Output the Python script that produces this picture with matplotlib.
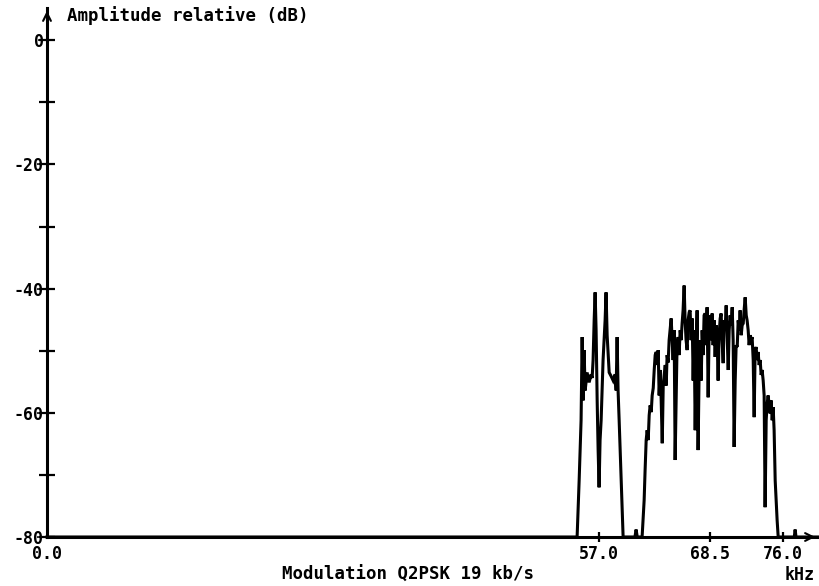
import matplotlib
matplotlib.use("Agg")
import matplotlib.pyplot as plt

# spectrum: frequency (kHz) and relative level (dB)
freq_khz = [
    0.0, 54.73, 54.94, 55.14, 55.25, 55.35, 55.45, 55.56, 55.76, 55.97,
    56.18, 56.28, 56.38, 56.49, 56.59, 56.69, 56.80, 56.90, 57.00, 57.10,
    57.21, 57.41, 57.62, 57.72, 57.83, 58.04, 58.24, 58.45, 58.66, 58.76,
    58.86, 58.96, 59.07, 59.28, 59.48, 60.70, 60.82, 60.94, 61.44,
    61.65, 61.75, 61.86, 61.96, 62.07, 62.17, 62.27, 62.38, 62.48, 62.59,
    62.69, 62.79, 62.90, 63.00, 63.10, 63.20, 63.31, 63.41, 63.52, 63.62,
    63.72, 63.83, 63.93, 64.02, 64.13, 64.23, 64.33, 64.44, 64.54, 64.64,
    64.75, 64.85, 64.95, 65.05, 65.16, 65.26, 65.37, 65.47, 65.57, 65.67,
    65.78, 65.88, 65.98, 66.09, 66.19, 66.30, 66.40, 66.50, 66.61, 66.71,
    66.81, 66.92, 67.02, 67.12, 67.22, 67.33, 67.43, 67.54, 67.64, 67.74,
    67.84, 67.95, 68.05, 68.15, 68.26, 68.36, 68.46, 68.57, 68.67, 68.77,
    68.88, 68.98, 69.08, 69.19, 69.29, 69.39, 69.50, 69.60, 69.70, 69.81,
    69.91, 70.01, 70.12, 70.22, 70.33, 70.43, 70.53, 70.64, 70.74, 70.84,
    70.94, 71.05, 71.15, 71.26, 71.36, 71.46, 71.56, 71.67, 71.77, 71.88,
    71.97, 72.08, 72.19, 72.28, 72.39, 72.49, 72.59, 72.70, 72.80, 72.91,
    73.01, 73.11, 73.21, 73.32, 73.42, 73.52, 73.63, 73.73, 73.83, 73.94,
    74.04, 74.14, 74.25, 74.35, 74.45, 74.56, 74.66, 74.76, 74.87, 74.97,
    75.07, 75.18, 75.28, 75.38, 75.49, 77.15, 77.24, 77.33, 79.6,
]
level_db = [
    -80.0, -80.0, -70.9, -61.2, -47.8, -58.0, -49.9, -56.4, -53.5, -55.1,
    -53.8, -54.4, -51.5, -45.1, -40.6, -46.7, -58.0, -66.0, -72.0, -64.4,
    -61.2, -51.5, -45.1, -40.6, -47.5, -53.5, -54.1, -54.8, -53.8, -56.4,
    -47.8, -56.4, -61.2, -70.9, -80.0, -80.0, -78.8, -80.0, -80.0,
    -74.1, -69.2, -64.4, -62.8, -64.4, -60.4, -58.8, -59.9, -57.2, -56.0,
    -53.1, -50.7, -50.2, -52.3, -49.9, -57.2, -53.1, -58.0, -64.9, -55.6,
    -53.9, -52.3, -55.6, -50.7, -51.9, -48.3, -46.7, -44.8, -48.3, -51.5,
    -46.7, -67.6, -58.0, -49.1, -47.8, -50.7, -46.7, -48.3, -45.6, -43.5,
    -39.5, -45.1, -48.3, -49.9, -45.1, -43.8, -43.5, -48.3, -44.8, -54.8,
    -46.7, -62.8, -51.5, -43.5, -66.0, -53.1, -48.3, -54.8, -46.7, -50.7,
    -44.3, -44.0, -49.1, -43.0, -57.5, -46.7, -44.3, -48.3, -44.0, -49.1,
    -45.1, -51.0, -45.9, -48.3, -54.8, -47.5, -44.8, -44.0, -48.3, -52.0,
    -45.1, -46.7, -42.7, -47.5, -53.1, -46.7, -44.3, -45.9, -43.0, -48.3,
    -65.5, -54.8, -49.1, -49.4, -45.1, -46.7, -43.5, -47.5, -45.9, -45.6,
    -43.5, -41.4, -44.3, -45.1, -46.7, -49.1, -47.5, -48.3, -47.8, -51.5,
    -60.7, -49.9, -49.4, -51.5, -50.2, -52.3, -51.5, -53.9, -53.1, -54.8,
    -57.2, -75.2, -61.2, -58.5, -57.2, -58.8, -60.1, -58.0, -61.2, -59.1,
    -62.8, -70.9, -74.1, -77.3, -80.0, -80.0, -78.8, -80.0, -80.0,
]

y_ticks = [-80, -70, -60, -50, -40, -30, -20, -10, 0]
y_tick_labels = ["-80", "", "-60", "", "-40", "", "-20", "", "0"]
x_ticks = [0.0, 57.0, 68.5, 76.0]
x_tick_labels = ["0.0", "57.0", "68.5", "76.0"]

W, H = 820, 586
font = "DejaVu Sans Mono"

fig = plt.figure(figsize=(W / 100, H / 100), dpi=100)
fig.patch.set_facecolor("white")

# axis box placed in pixels: y axis at x=47, x axis at y=537
left, right, top, bottom = 47, 818, 8, 537
ax = fig.add_axes([left / W, 1 - bottom / H, (right - left) / W, (bottom - top) / H])
ax.set_xlim(0, 79.6)
ax.set_ylim(-80, 5.2)

ax.plot(freq_khz, level_db, color="black", lw=2.2, solid_joinstyle="miter", clip_on=False)

for side in ["top", "right"]:
    ax.spines[side].set_visible(False)
for side in ["left", "bottom"]:
    ax.spines[side].set_linewidth(2.2)

ax.set_yticks(y_ticks)
ax.set_yticklabels(y_tick_labels, fontfamily=font, fontweight="bold", fontsize=12)
ax.set_xticks(x_ticks)
ax.set_xticklabels(x_tick_labels, fontfamily=font, fontweight="bold", fontsize=12)
ax.tick_params(axis="y", direction="inout", length=11, width=1.6, pad=-3)
ax.tick_params(axis="x", direction="inout", length=7, width=1.6, pad=2)
ax.xaxis.get_major_ticks()[0].tick1line.set_visible(False)

# open arrow heads at the end of both axes
ax.annotate("", xy=(1.0, 0), xytext=(0.985, 0), xycoords="axes fraction",
            arrowprops=dict(arrowstyle="->", lw=1.5, color="black", mutation_scale=14))
ax.annotate("", xy=(0, 1.0), xytext=(0, 0.97), xycoords="axes fraction",
            arrowprops=dict(arrowstyle="->", lw=1.5, color="black", mutation_scale=14))

fig.text(67 / W, 1 - 16 / H, "Amplitude relative (dB)", fontfamily=font,
         fontweight="bold", fontsize=12.5, ha="left", va="center")
fig.text(408 / W, 1 - 575 / H, "Modulation Q2PSK 19 kb/s", fontfamily=font,
         fontweight="bold", fontsize=12.5, ha="center", va="center")
fig.text(800 / W, 1 - 575 / H, "kHz", fontfamily=font,
         fontweight="bold", fontsize=12, ha="center", va="center")

fig.savefig("out.png", dpi=100, facecolor="white")
